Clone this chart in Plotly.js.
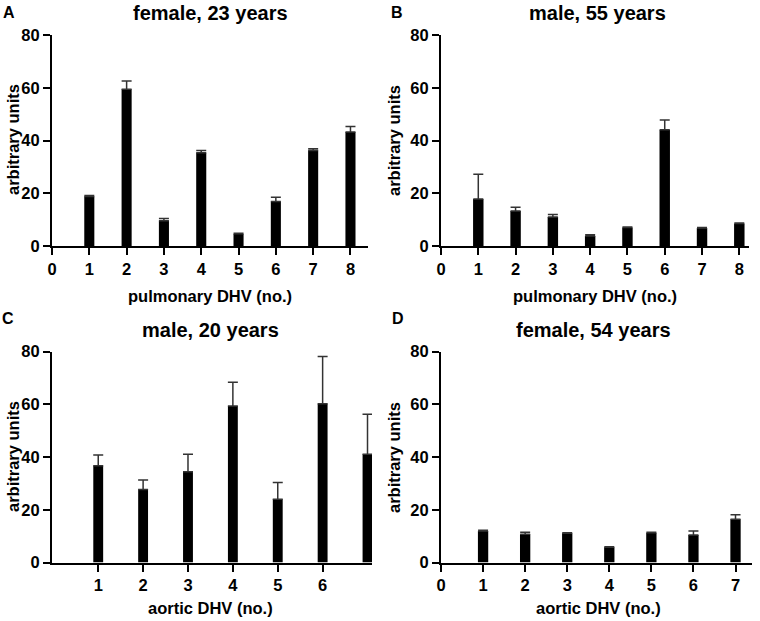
<!DOCTYPE html>
<html>
<head>
<meta charset="utf-8">
<script src="https://cdn.plot.ly/plotly-3.0.1.min.js"></script>
<style>html,body{margin:0;padding:0;background:#fff;}#chart{width:760px;height:621px;}</style>
</head>
<body>
<div id="chart"></div>
<script>
// ---- data ----
const valvesA = [1, 2, 3, 4, 5, 6, 7, 8];
const valuesA = [18.8, 59.4, 9.6, 35.4, 4.6, 16.9, 36.2, 43.2];
const errorsA = [0.3, 3.2, 0.8, 0.8, 0.2, 1.6, 0.7, 2.1];

const valvesB = [1, 2, 3, 4, 5, 6, 7, 8];
const valuesB = [17.8, 13.3, 11.0, 3.8, 7.0, 44.1, 6.8, 8.5];
const errorsB = [9.4, 1.4, 0.9, 0.5, 0.2, 3.7, 0.2, 0.2];

const valvesC = [1, 2, 3, 4, 5, 6, 7];
const valuesC = [36.7, 27.7, 34.4, 59.4, 24.0, 60.2, 41.1];
const errorsC = [4.1, 3.6, 6.7, 9.0, 6.4, 18.0, 15.2];

const valvesD = [1, 2, 3, 4, 5, 6, 7];
const valuesD = [12.0, 10.7, 11.1, 5.8, 11.3, 10.4, 16.4];
const errorsD = [0.2, 0.8, 0.2, 0.2, 0.2, 1.6, 1.7];

const panelTitles = ["female, 23 years", "male, 55 years", "male, 20 years", "female, 54 years"];
const panelLetters = ["A", "B", "C", "D"];
const xTitles = ["pulmonary DHV (no.)", "pulmonary DHV (no.)", "aortic DHV (no.)", "aortic DHV (no.)"];
const yTitle = "arbitrary units";
const yTicks = [0, 20, 40, 60, 80];
const xTicksA = [0, 1, 2, 3, 4, 5, 6, 7, 8];
const xTicksB = [0, 1, 2, 3, 4, 5, 6, 7, 8];
const xTicksC = [1, 2, 3, 4, 5, 6];
const xTicksD = [0, 1, 2, 3, 4, 5, 6, 7];

// ---- styling ----
const FONT = "Arial, 'Liberation Sans', Helvetica, sans-serif";
const W = 760, H = 621;
const px = v => v / W;
const py = v => 1 - v / H;

function barTrace(x, y, err, axisIdx, width) {
  return {
    type: "bar",
    x: x, y: y,
    width: width,
    marker: {color: "#000", line: {width: 0}},
    error_y: {type: "data", symmetric: false, array: err, arrayminus: err.map(() => 0),
              color: "#333", thickness: 1.5, width: 5},
    xaxis: "x" + (axisIdx === 1 ? "" : axisIdx),
    yaxis: "y" + (axisIdx === 1 ? "" : axisIdx),
    hoverinfo: "x+y"
  };
}

const data = [
  barTrace(valvesA, valuesA, errorsA, 1, 0.27),
  barTrace(valvesB, valuesB, errorsB, 2, 0.28),
  barTrace(valvesC, valuesC, errorsC, 3, 0.22),
  barTrace(valvesD, valuesD, errorsD, 4, 0.245)
];

const tickFont = {family: FONT, size: 16.5, color: "#000", weight: 700};

function xAxis(domain, range, ticks, anchor) {
  return {
    domain: domain, range: range, anchor: anchor,
    tickmode: "array", tickvals: ticks, ticktext: ticks.map(String),
    showgrid: false, zeroline: false, showline: true, linewidth: 2, linecolor: "#000",
    ticks: "outside", ticklen: 7, tickwidth: 2, tickcolor: "#000",
    tickfont: tickFont, fixedrange: true
  };
}
function yAxis(domain, anchor) {
  return {
    domain: domain, range: [0, 80], anchor: anchor,
    tickmode: "array", tickvals: yTicks, ticktext: yTicks.map(String),
    showgrid: false, zeroline: false, showline: true, linewidth: 2, linecolor: "#000",
    ticks: "outside", ticklen: 7, tickwidth: 2, tickcolor: "#000",
    tickfont: tickFont, fixedrange: true
  };
}

const topY = [py(246), py(35)];
const botY = [py(562.5), py(351.7)];

const annotations = [];
function ann(text, x, y, size, extra) {
  annotations.push(Object.assign({
    text: text, xref: "paper", yref: "paper", x: x, y: y,
    xanchor: "center", yanchor: "middle", showarrow: false,
    font: {family: FONT, size: size, color: "#000", weight: 700}
  }, extra || {}));
}
// panel titles
ann(panelTitles[0], px(210), py(13), 20);
ann(panelTitles[1], px(597), py(13), 20);
ann(panelTitles[2], px(210), py(330), 20);
ann(panelTitles[3], px(593), py(330), 20);
// letters
ann(panelLetters[0], px(9), py(13), 16);
ann(panelLetters[1], px(397), py(13), 16);
ann(panelLetters[2], px(8), py(318), 16);
ann(panelLetters[3], px(398), py(318), 16);
// x titles
ann(xTitles[0], px(210), py(296), 16.5);
ann(xTitles[1], px(595), py(296), 16.5);
ann(xTitles[2], px(210), py(608), 16.5);
ann(xTitles[3], px(598), py(608), 16.5);
// y titles
ann(yTitle, px(13), py(140), 16.5, {textangle: -90});
ann(yTitle, px(394), py(140), 16.5, {textangle: -90});
ann(yTitle, px(13), py(457), 16.5, {textangle: -90});
ann(yTitle, px(394), py(457), 16.5, {textangle: -90});

const layout = {
  width: W, height: H,
  margin: {l: 0, r: 0, t: 0, b: 0, pad: 0},
  paper_bgcolor: "#fff", plot_bgcolor: "#fff",
  showlegend: false,
  font: {family: FONT, color: "#000"},
  xaxis:  xAxis([px(52), px(368)], [0, 8.47], xTicksA, "y"),
  yaxis:  yAxis(topY, "x"),
  xaxis2: xAxis([px(441), px(749)], [0, 8.26], xTicksB, "y2"),
  yaxis2: yAxis(topY, "x2"),
  xaxis3: xAxis([px(52), px(372)], [-0.03, 7.10], xTicksC, "y3"),
  yaxis3: yAxis(botY, "x3"),
  xaxis4: xAxis([px(441), px(751.5)], [0, 7.38], xTicksD, "y4"),
  yaxis4: yAxis(botY, "x4"),
  annotations: annotations
};

Plotly.newPlot("chart", data, layout, {displayModeBar: false, staticPlot: true});
</script>
</body>
</html>
